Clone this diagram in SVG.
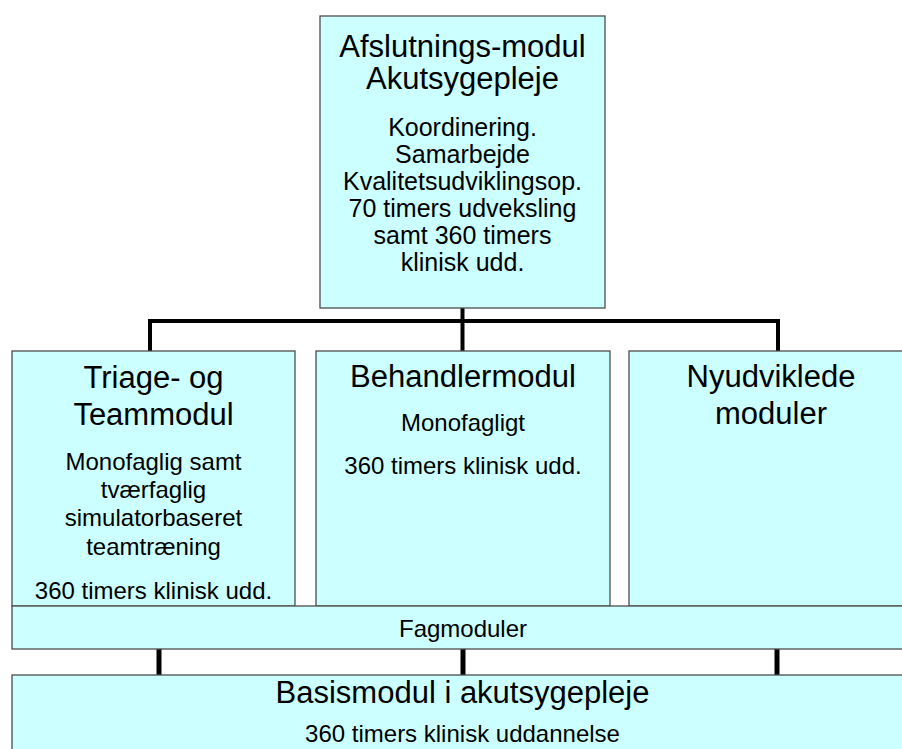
<svg xmlns="http://www.w3.org/2000/svg" width="902" height="749" viewBox="0 0 902 749">
<style>
.box{fill:#CCFFFF;stroke:#4d4d4d;stroke-width:1.3}
.conn{stroke:#000;stroke-width:4;fill:none}
.conn2{stroke:#000;stroke-width:5;fill:none}
text{font-family:"Liberation Sans",Arial,sans-serif;fill:#000;text-anchor:middle}
.t{font-size:31px}
.b{font-size:25px}
.s{font-size:24px}
</style>
<rect width="902" height="749" fill="#fff"/>
<g id="connectors">
<line class="conn" x1="462.5" y1="308" x2="462.5" y2="351"/>
<line class="conn" x1="148" y1="321" x2="780" y2="321"/>
<line class="conn" x1="150" y1="321" x2="150" y2="351"/>
<line class="conn" x1="778" y1="321" x2="778" y2="351"/>
<line class="conn2" x1="159" y1="649" x2="159" y2="675"/>
<line class="conn2" x1="463" y1="649" x2="463" y2="675"/>
<line class="conn2" x1="777" y1="649" x2="777" y2="675"/>
</g>
<g id="afslutning">
<rect class="box" x="320" y="16" width="285" height="292"/>
<text class="t" x="462.5" y="57">Afslutnings-modul</text>
<text class="t" x="462.5" y="89">Akutsygepleje</text>
<text class="b" x="462.5" y="136">Koordinering.</text>
<text class="b" x="462.5" y="163">Samarbejde</text>
<text class="b" x="462.5" y="190">Kvalitetsudviklingsop.</text>
<text class="b" x="462.5" y="217">70 timers udveksling</text>
<text class="b" x="462.5" y="244">samt 360 timers</text>
<text class="b" x="462.5" y="271">klinisk udd.</text>
</g>
<g id="triage">
<rect class="box" x="12" y="351" width="283" height="255"/>
<text class="t" x="153.5" y="388">Triage- og</text>
<text class="t" x="153.5" y="425">Teammodul</text>
<text class="s" x="153.5" y="470">Monofaglig samt</text>
<text class="s" x="153.5" y="498">tværfaglig</text>
<text class="s" x="153.5" y="526">simulatorbaseret</text>
<text class="s" x="153.5" y="555">teamtræning</text>
<text class="s" x="153.5" y="599">360 timers klinisk udd.</text>
</g>
<g id="behandler">
<rect class="box" x="316" y="351" width="294" height="255"/>
<text class="t" x="463" y="387">Behandlermodul</text>
<text class="s" x="463" y="431">Monofagligt</text>
<text class="s" x="463" y="474">360 timers klinisk udd.</text>
</g>
<g id="nyudviklede">
<rect class="box" x="629" y="351" width="284" height="255"/>
<text class="t" x="771" y="387">Nyudviklede</text>
<text class="t" x="771" y="424">moduler</text>
</g>
<g id="fagmoduler">
<rect class="box" x="12" y="606" width="910" height="43"/>
<text class="s" x="463" y="637">Fagmoduler</text>
</g>
<g id="basismodul">
<rect class="box" x="12" y="675" width="910" height="90"/>
<text class="t" x="462.5" y="703">Basismodul i akutsygepleje</text>
<text class="s" x="462.5" y="742">360 timers klinisk uddannelse</text>
</g>
</svg>
